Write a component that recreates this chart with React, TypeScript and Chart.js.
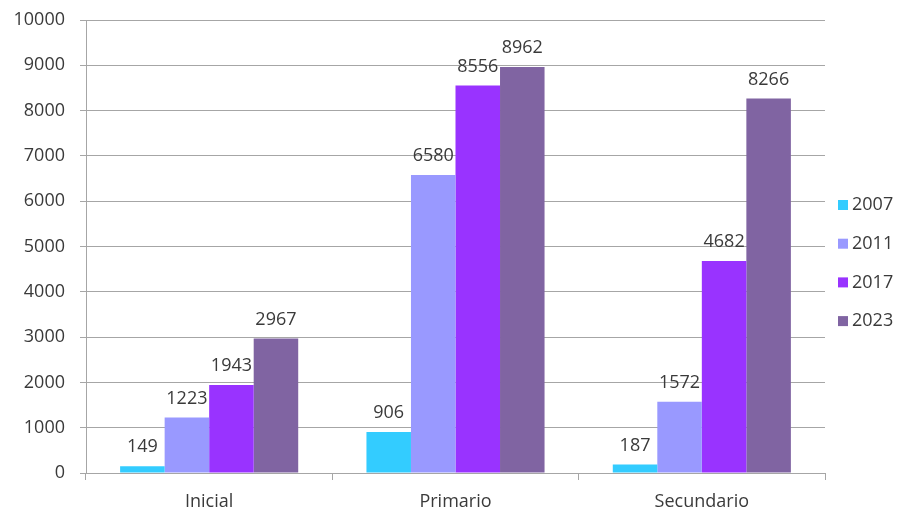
import React, { useEffect, useRef } from "react";
import { Chart, registerables } from "chart.js";

Chart.register(...registerables);

const categories = ["Inicial", "Primario", "Secundario"];
const seriesLabels = ["2007", "2011", "2017", "2023"];
const values2007 = [149, 906, 187];
const values2011 = [1223, 6580, 1572];
const values2017 = [1943, 8556, 4682];
const values2023 = [2967, 8962, 8266];
const colors = ["#33CCFF", "#9999FF", "#9933FF", "#8064A2"];

const FONT = "'Open Sans', sans-serif";
const FSIZE = 18;
const TEXT = "#3a3a3a";
const GRID = "#a6a6a6";

const valueLabels = {
  id: "valueLabels",
  afterDatasetsDraw(chart: any) {
    const ctx = chart.ctx;
    ctx.save();
    ctx.font = `${FSIZE}px ${FONT}`;
    ctx.fillStyle = TEXT;
    ctx.textAlign = "center";
    ctx.textBaseline = "middle";
    chart.data.datasets.forEach((ds: any, i: number) => {
      const meta = chart.getDatasetMeta(i);
      meta.data.forEach((bar: any, j: number) => {
        ctx.fillText(String(ds.data[j]), bar.x, bar.y - 19);
      });
    });
    ctx.restore();
  },
};

const sideLegend = {
  id: "sideLegend",
  afterDraw(chart: any) {
    const ctx = chart.ctx;
    ctx.save();
    ctx.font = `${FSIZE}px ${FONT}`;
    ctx.textAlign = "left";
    ctx.textBaseline = "middle";
    const x = chart.chartArea.right + 13;
    const startY = 205;
    const step = 38.7;
    chart.data.datasets.forEach((ds: any, i: number) => {
      const y = startY + i * step;
      ctx.fillStyle = ds.backgroundColor;
      ctx.fillRect(x, y - 5, 10, 10);
      ctx.fillStyle = TEXT;
      ctx.fillText(ds.label, x + 14, y);
    });
    ctx.restore();
  },
};

export default function App() {
  const ref = useRef<HTMLCanvasElement>(null);
  useEffect(() => {
    if (!ref.current) return;
    const seriesValues = [values2007, values2011, values2017, values2023];
    const chart = new Chart(ref.current, {
      type: "bar",
      data: {
        labels: categories,
        datasets: seriesLabels.map((l, i) => ({
          label: l,
          data: seriesValues[i],
          backgroundColor: colors[i],
          borderWidth: 0,
          categoryPercentage: 0.723,
          barPercentage: 1,
        })),
      },
      options: {
        animation: false,
        responsive: false,
        maintainAspectRatio: false,
        layout: { padding: { left: 13, right: 97, top: 20, bottom: 0 } },
        plugins: {
          legend: { display: false },
          tooltip: { enabled: false },
        },
        scales: {
          x: {
            afterFit: (scale: any) => {
              scale.height = 37;
              scale.paddingLeft = 0;
              scale.paddingRight = 0;
            },
            grid: {
              offset: true,
              drawOnChartArea: false,
              drawTicks: true,
              tickLength: 7,
              color: GRID,
            },
            border: { color: GRID },
            ticks: {
              color: TEXT,
              font: { family: FONT, size: FSIZE },
              padding: 11,
              maxRotation: 0,
            },
          },
          y: {
            min: 0,
            max: 10000,
            afterFit: (scale: any) => {
              scale.width = 73;
              scale.paddingTop = 0;
              scale.paddingBottom = 0;
            },
            grid: { color: GRID, tickLength: 6 },
            border: { color: GRID },
            ticks: {
              stepSize: 1000,
              color: TEXT,
              font: { family: FONT, size: FSIZE },
              padding: 15,
              callback: (v: any) => String(v),
            },
          },
        },
      },
      plugins: [valueLabels, sideLegend],
    });
    return () => chart.destroy();
  }, []);
  return (
    <div style={{ position: "fixed", left: 0, top: 0, width: 922, height: 510, background: "#fff" }}>
      <canvas ref={ref} width={922} height={510} style={{ width: 922, height: 510 }} />
    </div>
  );
}
